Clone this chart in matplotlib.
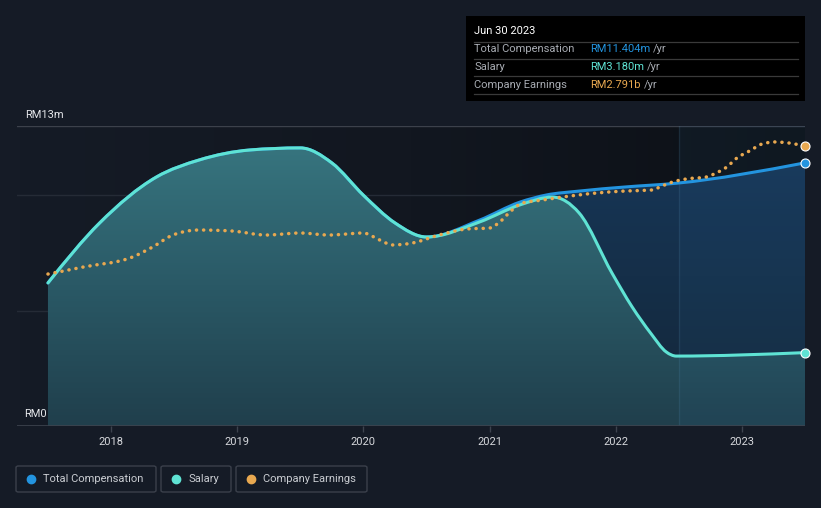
import numpy as np
import matplotlib
matplotlib.use("Agg")
import matplotlib.pyplot as plt
from matplotlib.patches import FancyBboxPatch, Rectangle, PathPatch
from matplotlib.path import Path
from matplotlib.colors import LinearSegmentedColormap

plt.rcParams['font.family'] = ['Roboto', 'DejaVu Sans']

# ---------------- data ----------------
sal_years = [2017.5, 2017.91, 2018.36, 2018.7, 2019.1, 2019.5, 2019.75, 2020.0, 2020.25, 2020.5,
             2020.92, 2021.24, 2021.5, 2021.71, 2021.97, 2022.13, 2022.28, 2022.4, 2022.48, 2023.5]
sal_vals = [6.20, 8.80, 10.79, 11.53, 11.96, 12.05, 11.40, 10.00, 8.80, 8.19,
            8.84, 9.58, 9.92, 9.23, 6.63, 5.16, 4.00, 3.21, 3.03, 3.18]

tc_years = [2017.5, 2017.91, 2018.36, 2018.7, 2019.1, 2019.5, 2019.75, 2020.0, 2020.25, 2020.5,
            2020.92, 2021.24, 2021.45, 2021.71, 2022.08, 2022.48, 2023.5]
tc_vals = [6.20, 8.80, 10.79, 11.53, 11.96, 12.05, 11.40, 10.00, 8.80, 8.19,
           8.92, 9.70, 10.01, 10.18, 10.36, 10.52, 11.404]

earn_years = [2017.5, 2017.78, 2018.17, 2018.33, 2018.49, 2018.7, 2018.96, 2019.23, 2019.5, 2019.73,
              2020.0, 2020.13, 2020.23, 2020.39, 2020.6, 2020.82, 2021.0, 2021.09, 2021.17, 2021.26,
              2021.42, 2021.58, 2021.85, 2022.08, 2022.29, 2022.35, 2022.45, 2022.56, 2022.72, 2022.78,
              2022.88, 2022.96, 2023.06, 2023.16, 2023.26, 2023.37, 2023.5]
earn_vals = [1.515, 1.585, 1.685, 1.785, 1.904, 1.954, 1.944, 1.904, 1.924, 1.904,
             1.924, 1.854, 1.805, 1.825, 1.904, 1.964, 1.974, 2.044, 2.144, 2.223,
             2.253, 2.283, 2.323, 2.343, 2.353, 2.383, 2.433, 2.463, 2.483, 2.513,
             2.582, 2.672, 2.742, 2.812, 2.832, 2.822, 2.791]

year_ticks = [2018, 2019, 2020, 2021, 2022, 2023]
y_labels = {0: "RM0", 13: "RM13m"}

tooltip_date = "Jun 30 2023"
tooltip_rows = [("Total Compensation", "RM11.404m", "#2394df"),
                ("Salary", "RM3.180m", "#5fe3d4"),
                ("Company Earnings", "RM2.791b", "#e8a850")]

# ---------------- style ----------------
BG = "#151b26"
C_TC = "#2394df"
C_SAL = "#5fe3d4"
C_EARN = "#e8a850"


def monotone_path(xs, ys, close_to=None):
    """Smooth monotone-x cubic Bezier path through the given points (rendering only)."""
    x = np.asarray(xs, float)
    y = np.asarray(ys, float)
    n = len(x)
    h = np.diff(x)
    s = np.diff(y) / h
    t = np.zeros(n)
    for i in range(1, n - 1):
        s0, s1, h0, h1 = s[i - 1], s[i], h[i - 1], h[i]
        p = (s0 * h1 + s1 * h0) / (h0 + h1)
        t[i] = (np.sign(s0) + np.sign(s1)) * min(abs(s0), abs(s1), 0.5 * abs(p))
    t[0] = (3 * s[0] - t[1]) / 2
    t[-1] = (3 * s[-1] - t[-2]) / 2
    verts = [(x[0], y[0])]
    codes = [Path.MOVETO]
    for i in range(n - 1):
        d = h[i] / 3
        verts += [(x[i] + d, y[i] + t[i] * d), (x[i + 1] - d, y[i + 1] - t[i + 1] * d), (x[i + 1], y[i + 1])]
        codes += [Path.CURVE4] * 3
    if close_to is not None:
        verts += [(x[-1], close_to), (x[0], close_to), (x[0], y[0])]
        codes += [Path.LINETO, Path.LINETO, Path.CLOSEPOLY]
    return Path(verts, codes)


W, H = 821, 508
fig = plt.figure(figsize=(W / 100, H / 100), dpi=100, facecolor=BG)

x0, x1 = 2017.2546, 2023.5
ax = fig.add_axes([17 / W, 82 / H, 788 / W, 300 / H])
ax.set_xlim(x0, x1)
ax.set_ylim(0, 13)
ax.set_facecolor(BG)
for s in ax.spines.values():
    s.set_visible(False)

# background horizontal gradient
bg_cmap = LinearSegmentedColormap.from_list("bg", ["#151b26", "#121720", "#0c1016"])
grad = np.linspace(0, 1, 256).reshape(1, -1)
ax.imshow(grad, extent=[x0, x1, 0, 13], aspect='auto', cmap=bg_cmap, zorder=0, origin='lower')

# gridlines
for gy, gc in [(5, "#252b36"), (10, "#252b36"), (13, "#3c414b")]:
    ax.axhline(gy, color=gc, lw=1, zorder=1)
ax.axhline(0, color="#3d434e", lw=1.2, zorder=8)

vgrad = np.linspace(0, 1, 256).reshape(-1, 1)  # row 0 = bottom (origin lower)

# total compensation fill (gradient)
tc_fill_path = monotone_path(tc_years, tc_vals, close_to=0)
tc_clip = PathPatch(tc_fill_path, transform=ax.transData, facecolor='none', edgecolor='none')
ax.add_patch(tc_clip)
tc_cmap = LinearSegmentedColormap.from_list("tc", ["#132638", "#17385a"])
im_tc = ax.imshow(vgrad, extent=[x0, x1, 0, 13], aspect='auto', cmap=tc_cmap, zorder=2, origin='lower')
im_tc.set_clip_path(tc_clip)

# salary fill (gradient)
sal_fill_path = monotone_path(sal_years, sal_vals, close_to=0)
sal_clip = PathPatch(sal_fill_path, transform=ax.transData, facecolor='none', edgecolor='none')
ax.add_patch(sal_clip)
sal_cmap = LinearSegmentedColormap.from_list("sal", ["#203f4c", "#2a5966", "#37757f"])
im_sal = ax.imshow(vgrad, extent=[x0, x1, 0, 12.2], aspect='auto', cmap=sal_cmap, zorder=3, origin='lower')
im_sal.set_clip_path(sal_clip)

# highlight band for last 12 months
ax.axvspan(2022.5, 2023.5, color="#3a86c0", alpha=0.07, lw=0, zorder=4)
ax.axvline(2022.5, color="#5080a0", alpha=0.18, lw=1, zorder=4)

# lines
ax.add_patch(PathPatch(monotone_path(tc_years, tc_vals), facecolor='none', edgecolor=C_TC, lw=2.2,
                       zorder=5, capstyle='round', joinstyle='round'))
ax.add_patch(PathPatch(monotone_path(sal_years, sal_vals), facecolor='none', edgecolor=C_SAL, lw=2.2,
                       zorder=6, capstyle='round', joinstyle='round'))
ax.plot([tc_years[-1]], [tc_vals[-1]], 'o', ms=6.5, color=C_TC, mec="white", mew=0.8, zorder=9, clip_on=False)
ax.plot([sal_years[-1]], [sal_vals[-1]], 'o', ms=6.5, color=C_SAL, mec="white", mew=0.8, zorder=9, clip_on=False)

# earnings on own scale
ax2 = ax.twinx()
ax2.set_ylim(0, 2.991)
ax2.set_xlim(x0, x1)
ax2.patch.set_visible(False)
for s in ax2.spines.values():
    s.set_visible(False)
ax2.set_yticks([])
earn_line = PathPatch(monotone_path(earn_years, earn_vals), facecolor='none', edgecolor=C_EARN, lw=2.5,
                      linestyle=(0, (0.05, 2.0)), zorder=7)
earn_line.set_capstyle('round')
ax2.add_patch(earn_line)
ax2.plot([earn_years[-1]], [earn_vals[-1]], 'o', ms=6.5, color=C_EARN, mec="white", mew=0.8, zorder=9, clip_on=False)

# x ticks
ax.set_xticks(year_ticks)
ax.set_xticklabels([str(y) for y in year_ticks])
ax.tick_params(axis='x', colors="#3d434e", length=4, width=1, pad=4, labelcolor="#d6d8dc", labelsize=8)
ax.set_yticks([])

# y labels
fig.text(25 / W, 1 - 115 / H, y_labels[13], color="#e4e6ea", fontsize=8, va='center', ha='left')
fig.text(24 / W, 1 - 414 / H, y_labels[0], color="#e4e6ea", fontsize=8, va='center', ha='left', zorder=20)

# tooltip
fig.patches.append(Rectangle((466 / W, 1 - 101 / H), (805 - 466) / W, 85 / H, transform=fig.transFigure,
                             facecolor="#000000", edgecolor="none", zorder=10))
fig.text(474 / W, 1 - 31 / H, tooltip_date, color="white", fontsize=8, va='center', ha='left', zorder=11)
sep_y = [41.5, 58.5, 76, 93.5]
for sy in sep_y:
    fig.add_artist(plt.Line2D([474 / W, 798 / W], [1 - sy / H, 1 - sy / H], color="#3a3a3a", lw=0.9,
                              transform=fig.transFigure, zorder=11))
row_y = [49.5, 66.5, 84.5]
for (lab, val, col), ry in zip(tooltip_rows, row_y):
    fig.text(474 / W, 1 - ry / H, lab, color="#a8acb3", fontsize=8, va='center', ha='left', zorder=11)
    t = fig.text(590 / W, 1 - ry / H, val, color=col, fontsize=8, va='center', ha='left', zorder=11)
    fig.canvas.draw()
    bb = t.get_window_extent()
    fig.text((bb.x1 + 3) / W, 1 - ry / H, "/yr", color="#a8acb3", fontsize=8, va='center', ha='left', zorder=11)

# legend
legend_items = [("Total Compensation", C_TC, 16, 156), ("Salary", C_SAL, 161, 231), ("Company Earnings", C_EARN, 236, 367)]
for lab, col, bx0, bx1 in legend_items:
    fig.patches.append(FancyBboxPatch((bx0 / W, 1 - 492 / H), (bx1 - bx0) / W, 26 / H,
                                      boxstyle="round,pad=0,rounding_size=0.003", transform=fig.transFigure,
                                      facecolor="none", edgecolor="#3b404b", lw=1, zorder=10))
    fig.add_artist(plt.Line2D([(bx0 + 15) / W], [1 - 479 / H], marker='o', ms=6, color=col, lw=0,
                              transform=fig.transFigure, zorder=11))
    fig.text((bx0 + 27) / W, 1 - 479 / H, lab, color="#c9ccd1", fontsize=8, va='center', ha='left', zorder=11)

fig.savefig("out.png", dpi=100, facecolor=BG)
